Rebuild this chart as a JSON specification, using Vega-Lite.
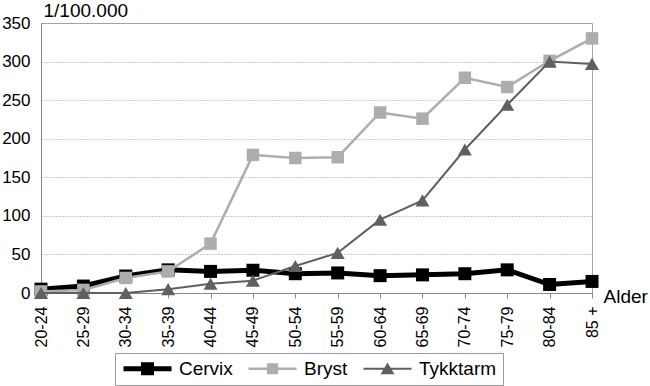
{
  "$schema": "https://vega.github.io/schema/vega-lite/v6.json",
  "width": 551,
  "height": 270,
  "autosize": "none",
  "padding": {"left": 41, "top": 23, "right": 58, "bottom": 93},
  "background": "white",
  "config": {
    "font": "Liberation Sans",
    "view": {"stroke": "#a6a6a6", "strokeWidth": 1}
  },
  "data": {
    "values": [
      {"alder": "20-24", "type": "Cervix", "rate": 5},
      {"alder": "25-29", "type": "Cervix", "rate": 9},
      {"alder": "30-34", "type": "Cervix", "rate": 22},
      {"alder": "35-39", "type": "Cervix", "rate": 30},
      {"alder": "40-44", "type": "Cervix", "rate": 28},
      {"alder": "45-49", "type": "Cervix", "rate": 29.5},
      {"alder": "50-54", "type": "Cervix", "rate": 25},
      {"alder": "55-59", "type": "Cervix", "rate": 26},
      {"alder": "60-64", "type": "Cervix", "rate": 22.5},
      {"alder": "65-69", "type": "Cervix", "rate": 23.5},
      {"alder": "70-74", "type": "Cervix", "rate": 25},
      {"alder": "75-79", "type": "Cervix", "rate": 30},
      {"alder": "80-84", "type": "Cervix", "rate": 11},
      {"alder": "85 +", "type": "Cervix", "rate": 15},
      {"alder": "20-24", "type": "Bryst", "rate": 2},
      {"alder": "25-29", "type": "Bryst", "rate": 4},
      {"alder": "30-34", "type": "Bryst", "rate": 19.5},
      {"alder": "35-39", "type": "Bryst", "rate": 28},
      {"alder": "40-44", "type": "Bryst", "rate": 64},
      {"alder": "45-49", "type": "Bryst", "rate": 179},
      {"alder": "50-54", "type": "Bryst", "rate": 175},
      {"alder": "55-59", "type": "Bryst", "rate": 176},
      {"alder": "60-64", "type": "Bryst", "rate": 234},
      {"alder": "65-69", "type": "Bryst", "rate": 226},
      {"alder": "70-74", "type": "Bryst", "rate": 279},
      {"alder": "75-79", "type": "Bryst", "rate": 267},
      {"alder": "80-84", "type": "Bryst", "rate": 301},
      {"alder": "85 +", "type": "Bryst", "rate": 330},
      {"alder": "20-24", "type": "Tykktarm", "rate": 0},
      {"alder": "25-29", "type": "Tykktarm", "rate": 0},
      {"alder": "30-34", "type": "Tykktarm", "rate": 0},
      {"alder": "35-39", "type": "Tykktarm", "rate": 5},
      {"alder": "40-44", "type": "Tykktarm", "rate": 12},
      {"alder": "45-49", "type": "Tykktarm", "rate": 16},
      {"alder": "50-54", "type": "Tykktarm", "rate": 35},
      {"alder": "55-59", "type": "Tykktarm", "rate": 52},
      {"alder": "60-64", "type": "Tykktarm", "rate": 95},
      {"alder": "65-69", "type": "Tykktarm", "rate": 120},
      {"alder": "70-74", "type": "Tykktarm", "rate": 186},
      {"alder": "75-79", "type": "Tykktarm", "rate": 244},
      {"alder": "80-84", "type": "Tykktarm", "rate": 300},
      {"alder": "85 +", "type": "Tykktarm", "rate": 297}
    ]
  },
  "encoding": {
    "x": {
      "field": "alder",
      "type": "ordinal",
      "sort": null,
      "scale": {"type": "point", "padding": 0},
      "axis": {
        "title": "Alder",
        "titleX": 562,
        "titleY": 9,
        "titleAlign": "left",
        "titleBaseline": "alphabetic",
        "titleAngle": 0,
        "titleFontSize": 19,
        "titleFontWeight": "normal",
        "titleColor": "black",
        "labelAngle": -90,
        "labelFontSize": 16,
        "labelColor": "black",
        "labelPadding": 8,
        "tickSize": 5,
        "tickColor": "#888888",
        "domainColor": "#888888",
        "grid": false
      }
    },
    "y": {
      "field": "rate",
      "type": "quantitative",
      "scale": {"domain": [0, 350], "nice": false},
      "axis": {
        "title": "1/100.000",
        "titleAngle": 0,
        "titleX": 2,
        "titleY": -7,
        "titleAlign": "left",
        "titleBaseline": "alphabetic",
        "titleFontSize": 19,
        "titleFontWeight": "normal",
        "titleColor": "black",
        "values": [0, 50, 100, 150, 200, 250, 300, 350],
        "ticks": false,
        "labelPadding": 11,
        "labelFontSize": 17,
        "labelColor": "black",
        "grid": true,
        "gridDash": [1, 2],
        "gridColor": "#999999",
        "domainColor": "#888888"
      }
    },
    "color": {
      "field": "type",
      "type": "nominal",
      "sort": ["Cervix", "Bryst", "Tykktarm"],
      "scale": {"domain": ["Cervix", "Bryst", "Tykktarm"], "range": ["#000000", "#adadad", "#606060"]},
      "legend": {
        "title": null,
        "orient": "none",
        "direction": "horizontal",
        "legendX": 74,
        "legendY": 330,
        "padding": 6,
        "strokeColor": "#999999",
        "fillColor": "white",
        "labelFontSize": 19,
        "labelColor": "black",
        "labelOffset": 39,
        "columnPadding": 13,
        "symbolSize": 196,
        "symbolStrokeWidth": 0,
        "encode": {
          "symbols": {
            "update": {
              "shape": {"signal": "datum.value === 'Cervix' ? 'M-1,-0.36H5.86V0.36H-1Z M1.5,-0.93H3.36V0.93H1.5Z' : datum.value === 'Bryst' ? 'M-1,-0.18H5.86V0.18H-1Z M1.63,-0.8H3.23V0.8H1.63Z' : 'M-1,-0.14H5.86V0.14H-1Z M2.43,-0.9L3.43,0.8L1.43,0.8Z'"},
              "fill": {"signal": "datum.value === 'Cervix' ? '#000000' : datum.value === 'Bryst' ? '#adadad' : '#606060'"},
              "fillOpacity": {"value": 1},
              "opacity": {"value": 1},
              "strokeWidth": {"value": 0}
            }
          }
        }
      }
    }
  },
  "layer": [
    {
      "transform": [{"filter": "datum.type === 'Cervix'"}],
      "layer": [
        {"mark": {"type": "line", "strokeWidth": 5}, "encoding": {}},
        {"mark": {"type": "point", "shape": "square", "filled": true, "opacity": 1, "size": 169, "strokeWidth": 0}, "encoding": {}}
      ]
    },
    {
      "transform": [{"filter": "datum.type === 'Bryst'"}],
      "layer": [
        {"mark": {"type": "line", "strokeWidth": 2.5}, "encoding": {}},
        {"mark": {"type": "point", "shape": "square", "filled": true, "opacity": 1, "size": 156, "strokeWidth": 0}, "encoding": {}}
      ]
    },
    {
      "transform": [{"filter": "datum.type === 'Tykktarm'"}],
      "layer": [
        {"mark": {"type": "line", "strokeWidth": 2}, "encoding": {}},
        {"mark": {"type": "point", "shape": "triangle-up", "filled": true, "opacity": 1, "size": 196, "strokeWidth": 0}, "encoding": {}}
      ]
    }
  ]
}
